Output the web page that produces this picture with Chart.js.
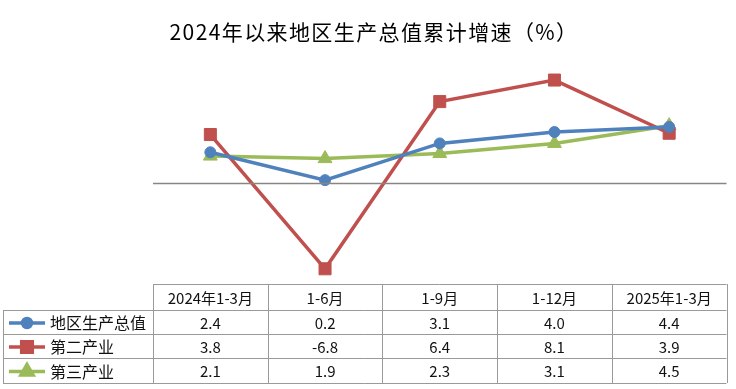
<!DOCTYPE html>
<html>
<head>
<meta charset="utf-8">
<script src="https://cdn.jsdelivr.net/npm/chart.js@4"></script>
<style>
  html, body { margin: 0; padding: 0; background: #fff; }
  #wrap { width: 736px; height: 389px; }
</style>
</head>
<body>
<div id="wrap"><canvas id="myChart" width="736" height="389"></canvas></div>
<script>
  const chartTitle = '2024年以来地区生产总值累计增速（%）';
  const labels = ['2024年1-3月', '1-6月', '1-9月', '1-12月', '2025年1-3月'];
  const seriesNames = ['地区生产总值', '第二产业', '第三产业'];
  const gdp = [2.4, 0.2, 3.1, 4.0, 4.4];
  const secondary = [3.8, -6.8, 6.4, 8.1, 3.9];
  const tertiary = [2.1, 1.9, 2.3, 3.1, 4.5];

  const colors = ['#4F81BD', '#C0504D', '#9BBB59'];
  const markers = ['circle', 'rect', 'triangle'];
  const markerSize = [5.5, 8.5, 8];
  const CJK = '"Noto Sans CJK SC", "Noto Sans", sans-serif';

  const data = {
    labels,
    datasets: [gdp, secondary, tertiary].map((vals, i) => ({
      label: seriesNames[i],
      data: vals,
      borderColor: colors[i],
      backgroundColor: colors[i],
      borderWidth: 3.5,
      pointStyle: markers[i],
      pointRadius: markerSize[i],
      pointBorderWidth: 1,
      fill: false,
      tension: 0
    }))
  };

  // zero line, title and data table under the plot
  const tablePlugin = {
    id: 'tablePlugin',
    afterDraw(chart) {
      const ctx = chart.ctx;
      const x = chart.scales.x;
      const y = chart.scales.y;
      const area = chart.chartArea;
      ctx.save();

      // title
      ctx.fillStyle = '#000';
      ctx.font = '21px ' + CJK;
      ctx.letterSpacing = '1.4px';
      ctx.textAlign = 'center';
      ctx.textBaseline = 'middle';
      ctx.fillText(chartTitle, 374, 32);
      ctx.letterSpacing = '0px';

      // zero line
      const y0 = Math.round(y.getPixelForValue(0)) + 0.5;
      ctx.strokeStyle = '#868686';
      ctx.lineWidth = 1.5;
      ctx.beginPath();
      ctx.moveTo(area.left, y0);
      ctx.lineTo(area.right, y0);
      ctx.stroke();

      // table grid
      const rows = [area.bottom, 310, 334, 358, 383];
      const legendLeft = 3;
      const colW = (area.right - area.left) / labels.length;
      ctx.strokeStyle = '#9a9a9a';
      ctx.lineWidth = 1;
      ctx.beginPath();
      rows.forEach((ry, i) => {
        const yy = Math.round(ry) + 0.5;
        ctx.moveTo(i === 0 ? area.left : legendLeft, yy);
        ctx.lineTo(area.right, yy);
      });
      for (let c = 0; c <= labels.length; c++) {
        const xx = Math.round(area.left + c * colW) + 0.5;
        ctx.moveTo(xx, rows[0]);
        ctx.lineTo(xx, rows[4]);
      }
      ctx.moveTo(legendLeft + 0.5, rows[1]);
      ctx.lineTo(legendLeft + 0.5, rows[4]);
      ctx.stroke();

      // header
      ctx.fillStyle = '#111';
      ctx.font = '15px ' + CJK;
      labels.forEach((lab, c) => {
        ctx.fillText(lab, x.getPixelForValue(c), (rows[0] + rows[1]) / 2 + 1);
      });

      // series rows
      chart.data.datasets.forEach((ds, r) => {
        const cy = (rows[r + 1] + rows[r + 2]) / 2 + 1;
        ctx.fillStyle = '#111';
        ctx.font = '15px ' + CJK;
        ctx.textAlign = 'center';
        ds.data.forEach((v, c) => {
          ctx.fillText(v.toFixed(1), x.getPixelForValue(c), cy);
        });
        // legend key
        ctx.strokeStyle = colors[r];
        ctx.lineWidth = 3.5;
        ctx.beginPath();
        ctx.moveTo(9, cy);
        ctx.lineTo(45, cy);
        ctx.stroke();
        Chart.helpers.drawPoint(ctx, {
          pointStyle: markers[r],
          radius: markerSize[r] - 1,
          borderWidth: 1
        }, 27, cy);
        ctx.fillStyle = colors[r];
        ctx.fill();
        ctx.fillStyle = '#111';
        ctx.font = '16px ' + CJK;
        ctx.textAlign = 'left';
        ctx.fillText(ds.label, 50, cy);
      });
      ctx.restore();
    }
  };

  const config = {
    type: 'line',
    data,
    options: {
      responsive: false,
      animation: false,
      layout: {
        padding: { left: 153, right: 3, top: 56, bottom: 105 }
      },
      scales: {
        x: { display: false, offset: true },
        y: { display: false, min: -8, max: 10 }
      },
      plugins: {
        legend: { display: false },
        title: { display: false },
        tooltip: { enabled: false }
      }
    },
    plugins: [tablePlugin]
  };

  const myChart = new Chart(document.getElementById('myChart'), config);
</script>
</body>
</html>
